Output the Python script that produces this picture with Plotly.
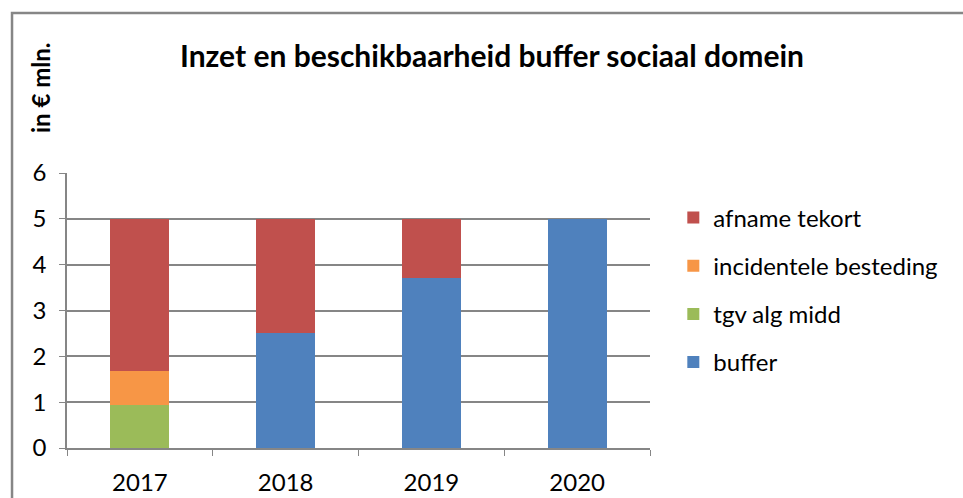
import plotly.graph_objects as go

years = ["2017", "2018", "2019", "2020"]
buffer = [0, 2.5, 3.7, 5.0]
tgv_alg_midd = [0.93, 0, 0, 0]
incidentele_besteding = [0.76, 0, 0, 0]
afname_tekort = [3.31, 2.5, 1.3, 0]

series = [
    ("buffer", buffer, "#4f81bd", 4),
    ("tgv alg midd", tgv_alg_midd, "#9bbb59", 3),
    ("incidentele besteding", incidentele_besteding, "#f79646", 2),
    ("afname tekort", afname_tekort, "#c0504d", 1),
]

FONT = "Lato, Carlito, Calibri, sans-serif"
fig = go.Figure()
for name, vals, col, rank in series:
    fig.add_trace(go.Bar(x=years, y=vals, name=name, legendgroup=name, legendrank=rank,
                         marker=dict(color=col, line=dict(width=0)), width=0.405))

grey = "#868686"
fig.update_layout(
    width=963, height=498,
    barmode="stack",
    plot_bgcolor="white", paper_bgcolor="white",
    margin=dict(l=67, r=313, t=173, b=50, autoexpand=False),
    font=dict(family=FONT, size=24, color="#000000"),
    showlegend=True,
    legend=dict(traceorder="grouped", x=1.04, xanchor="left", y=0.575, yanchor="middle",
                font=dict(size=24), tracegroupgap=14, itemwidth=30,
                bgcolor="rgba(0,0,0,0)"),
    xaxis=dict(showline=True, linecolor=grey, linewidth=1.5, ticks="outside", tickson="boundaries",
               ticklen=6, tickcolor=grey, showgrid=False, tickfont=dict(size=24), ticklabelstandoff=12,
               automargin=False),
    yaxis=dict(range=[0, 6], dtick=1, showline=True, linecolor=grey, linewidth=1.5, ticks="outside",
               ticklen=6, tickcolor=grey, showgrid=True, gridcolor=grey, gridwidth=1.5,
               zeroline=False, tickfont=dict(size=24), ticklabelstandoff=8, automargin=False),
    shapes=[dict(type="rect", xref="paper", yref="paper", x0=-0.0943, x1=1.7, y0=-0.3, y1=1.582,
                 line=dict(color=grey, width=2.5), fillcolor="rgba(0,0,0,0)", layer="below")],
    annotations=[
        dict(text="<b>Inzet en beschikbaarheid buffer sociaal domein</b>", xref="paper", yref="paper",
             x=(492 - 67) / 583, y=(448 - 55) / 275, xanchor="center", yanchor="middle", showarrow=False,
             font=dict(size=30, family=FONT)),
        dict(text="<b>in € mln.</b>", xref="paper", yref="paper", textangle=-90,
             x=(40 - 67) / 583, y=(448 - 88) / 275, xanchor="center", yanchor="middle", showarrow=False,
             font=dict(size=24, family=FONT)),
    ],
)
fig.write_html("out.html")
